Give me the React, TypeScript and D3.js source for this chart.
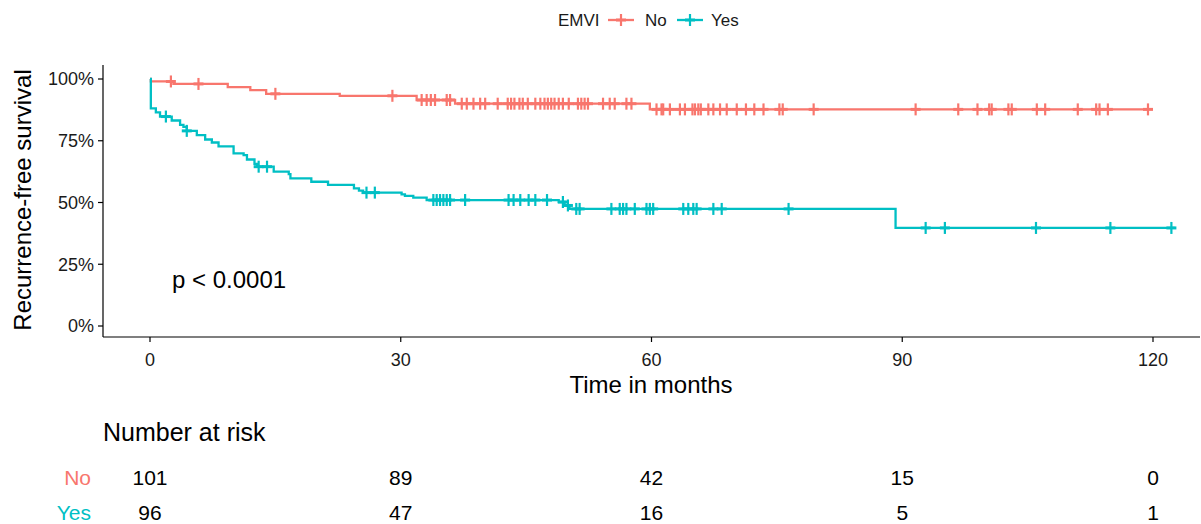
import React from 'react';
import * as d3 from 'd3';

// Kaplan-Meier step points: [time in months, survival]
const stepsNo: [number, number][] = [
  [0, 1.0], [0.1, 0.99], [2.8, 0.98], [9.3, 0.967], [12.0, 0.955], [13.9, 0.94],
  [22.7, 0.932], [31.9, 0.915], [36.5, 0.9], [59.8, 0.877],
];
const endNo = 119.4;
const censorNo = [
  2.5, 5.8, 15.0, 29.0, 32.5, 33.1, 33.6, 34.1, 35.5, 35.9, 37.3, 37.9, 38.7, 39.5, 40.1,
  41.6, 42.8, 43.2, 43.6, 44.2, 44.6, 45.2, 46.1, 46.7, 47.2, 47.6, 48.0, 48.4, 48.9, 49.4,
  50.1, 51.2, 51.6, 52.0, 52.4, 54.2, 55.0, 55.6, 57.0, 57.6, 60.6, 61.2, 61.4, 62.2, 63.4,
  64.0, 64.9, 65.2, 65.6, 65.9, 66.8, 67.4, 68.2, 69.0, 70.2, 71.3, 72.3, 73.4, 75.3, 75.7,
  79.4, 91.6, 96.7, 99.0, 100.4, 100.7, 102.7, 103.1, 106.1, 107.1, 111.0, 113.2, 113.6,
  114.6, 119.4,
];

const stepsYes: [number, number][] = [
  [0, 1.0], [0.1, 0.881], [0.7, 0.865], [1.2, 0.848], [2.6, 0.832], [3.6, 0.814],
  [4.0, 0.806], [4.4, 0.79], [5.6, 0.773], [6.6, 0.755], [7.4, 0.743], [8.2, 0.727],
  [10.0, 0.699], [11.2, 0.692], [11.6, 0.674], [12.5, 0.656], [12.8, 0.645], [14.8, 0.625],
  [16.6, 0.615], [16.8, 0.598], [19.3, 0.584], [21.3, 0.571], [24.4, 0.557], [25.0, 0.548],
  [25.5, 0.54], [30.1, 0.533], [30.5, 0.527], [31.5, 0.52], [33.1, 0.51], [48.9, 0.502],
  [49.6, 0.488], [50.2, 0.474], [89.2, 0.397],
];
const endYes = 122.6;
const censorYes = [
  1.9, 4.4, 13.0, 14.0, 25.9, 26.9, 33.9, 34.3, 34.7, 35.1, 35.5, 35.9, 37.7, 42.9, 43.5,
  44.3, 45.3, 46.1, 47.5, 49.4, 50.0, 51.0, 51.4, 55.2, 56.2, 56.6, 57.0, 58.0, 59.4, 59.8,
  60.2, 63.8, 64.4, 65.0, 65.4, 67.4, 68.4, 76.4, 92.8, 95.1, 106.0, 114.9, 122.2,
];

const xTicks = [0, 30, 60, 90, 120];
const yTicks = [0, 0.25, 0.5, 0.75, 1];
const riskNo = [101, 89, 42, 15, 0];
const riskYes = [96, 47, 16, 5, 1];

const colNo = '#F8766D';
const colYes = '#00BFC4';
const font = '"Liberation Sans", Arial, sans-serif';

const x = d3.scaleLinear().domain([0, 120]).range([150, 1153]);
const y = d3.scaleLinear().domain([0, 1]).range([326, 79]);

const survAt = (steps: [number, number][], t: number) => {
  let s = steps[0][1];
  for (const [st, sv] of steps) if (st <= t) s = sv;
  return s;
};

const line = d3.line<[number, number]>()
  .x(d => x(d[0]))
  .y(d => y(d[1]))
  .curve(d3.curveStepAfter);

// censor mark: short thick bar + vertical tick
const Plus: React.FC<{ cx: number; cy: number; color: string }> = ({ cx, cy, color }) => (
  <g stroke={color}>
    <line x1={cx - 5} x2={cx + 5} y1={cy} y2={cy} strokeWidth={3} />
    <line x1={cx} x2={cx} y1={cy - 6} y2={cy + 6} strokeWidth={2.2} />
  </g>
);

const Curve: React.FC<{ steps: [number, number][]; end: number; censor: number[]; color: string }> = ({ steps, end, censor, color }) => {
  const pts: [number, number][] = [...steps, [end, steps[steps.length - 1][1]]];
  return (
    <g>
      <path d={line(pts) || ''} fill="none" stroke={color} strokeWidth={2.3} />
      {censor.map((t, i) => (
        <Plus key={i} cx={x(t)} cy={y(survAt(steps, t))} color={color} />
      ))}
    </g>
  );
};

export default function App() {
  const axisLeft = 103;
  const axisBottom = 337;
  return (
    <svg width={1201} height={524} style={{ position: 'absolute', left: 0, top: 0, background: '#fff' }} fontFamily={font}>
      {/* legend */}
      <text x={558} y={26} fontSize={17} fill="#1a1a1a">EMVI</text>
      <line x1={608} x2={634} y1={20} y2={20} stroke={colNo} strokeWidth={2.3} />
      <Plus cx={621} cy={20} color={colNo} />
      <text x={645} y={26} fontSize={17} fill="#1a1a1a">No</text>
      <line x1={677} x2={703} y1={20} y2={20} stroke={colYes} strokeWidth={2.3} />
      <Plus cx={690} cy={20} color={colYes} />
      <text x={711} y={26} fontSize={17} fill="#1a1a1a">Yes</text>

      {/* axes */}
      <line x1={axisLeft} x2={axisLeft} y1={65} y2={axisBottom} stroke="#000" strokeWidth={1.2} />
      <line x1={axisLeft} x2={1200} y1={axisBottom} y2={axisBottom} stroke="#000" strokeWidth={1.2} />
      {yTicks.map(v => (
        <g key={v}>
          <line x1={axisLeft - 5} x2={axisLeft} y1={y(v)} y2={y(v)} stroke="#000" strokeWidth={1.2} />
          <text x={axisLeft - 9} y={y(v)} dy="0.36em" textAnchor="end" fontSize={18} fill="#1a1a1a">
            {`${Math.round(v * 100)}%`}
          </text>
        </g>
      ))}
      {xTicks.map(v => (
        <g key={v}>
          <line x1={x(v)} x2={x(v)} y1={axisBottom} y2={axisBottom + 5} stroke="#000" strokeWidth={1.2} />
          <text x={x(v)} y={360} dy="0.36em" textAnchor="middle" fontSize={18} fill="#1a1a1a">{v}</text>
        </g>
      ))}
      <text x={651} y={384} dy="0.36em" textAnchor="middle" fontSize={24} fill="#000">Time in months</text>
      <text transform="translate(22,200) rotate(-90)" dy="0.36em" textAnchor="middle" fontSize={24} fill="#000">
        Recurrence-free survival
      </text>

      {/* curves */}
      <Curve steps={stepsNo} end={endNo} censor={censorNo} color={colNo} />
      <Curve steps={stepsYes} end={endYes} censor={censorYes} color={colYes} />

      <text x={172} y={279} dy="0.36em" fontSize={24} fill="#000">p &lt; 0.0001</text>

      {/* risk table */}
      <text x={103} y={432} dy="0.36em" fontSize={25} fill="#000">Number at risk</text>
      <text x={91} y={477} dy="0.36em" textAnchor="end" fontSize={21} fill={colNo}>No</text>
      <text x={91} y={512} dy="0.36em" textAnchor="end" fontSize={21} fill={colYes}>Yes</text>
      {xTicks.map((t, i) => (
        <g key={t}>
          <text x={x(t)} y={477} dy="0.36em" textAnchor="middle" fontSize={21} fill="#000">{riskNo[i]}</text>
          <text x={x(t)} y={512} dy="0.36em" textAnchor="middle" fontSize={21} fill="#000">{riskYes[i]}</text>
        </g>
      ))}
    </svg>
  );
}
